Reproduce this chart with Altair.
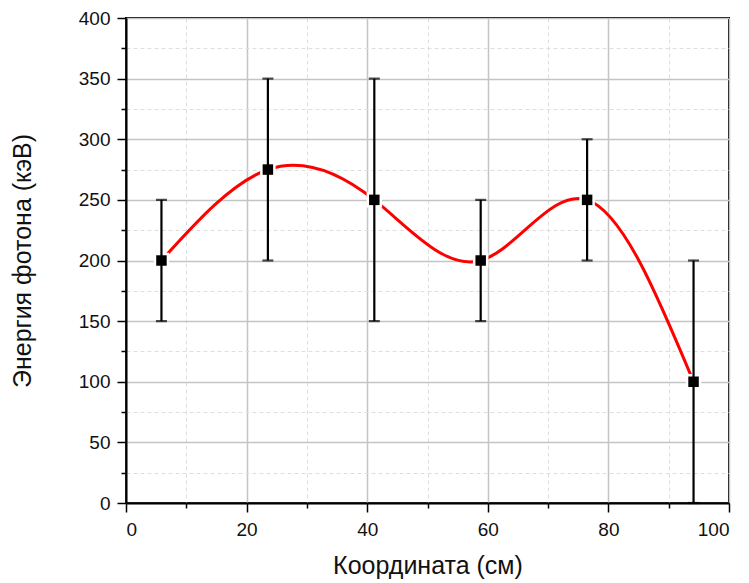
import altair as alt
import pandas as pd

# data
xpos = [5.88, 23.53, 41.18, 58.82, 76.47, 94.12]
energy = [200, 275, 250, 200, 250, 100]
err_low = [150, 200, 150, 150, 200, 0]
err_high = [250, 350, 350, 250, 300, 200]

x_major = [0, 20, 40, 60, 80, 100]
x_minor = [10, 30, 50, 70, 90]
y_major = [0, 50, 100, 150, 200, 250, 300, 350, 400]
y_minor = [25, 75, 125, 175, 225, 275, 325, 375]

df = pd.DataFrame({"x": xpos, "y": energy, "lo": err_low, "hi": err_high})

FONT = "Liberation Sans"
XT = "Координата (см)"
YT = "Энергия фотона (кэВ)"

xs = alt.Scale(domain=[0, 100], nice=False, zero=False)
ys = alt.Scale(domain=[0, 400], nice=False, zero=False)

minor_x_axis = alt.Axis(values=x_minor, grid=True, gridDash=[4, 3], gridColor="#dedede",
                        gridWidth=1, labels=False, domain=False, ticks=True, tickSize=5,
                        tickColor="black", tickWidth=1.5, title=None, orient="bottom")
minor_y_axis = alt.Axis(values=y_minor, grid=True, gridDash=[4, 3], gridColor="#dedede",
                        gridWidth=1, labels=False, domain=False, ticks=True, tickSize=5,
                        tickColor="black", tickWidth=1.5, title=None, orient="left")

major_x_axis = alt.Axis(values=x_major, grid=True, gridColor="#c4c4c4", gridWidth=1.5,
                        domain=True, domainColor="black", domainWidth=2,
                        tickSize=9, tickColor="black", tickWidth=1.5,
                        labelFont=FONT, labelFontSize=19, labelColor="#111111", labelPadding=8,
                        titleFont=FONT, titleFontSize=25, titleFontWeight="normal",
                        titleColor="#111111", titlePadding=14, orient="bottom")
major_y_axis = alt.Axis(values=y_major, grid=True, gridColor="#c4c4c4", gridWidth=1.5,
                        domain=True, domainColor="black", domainWidth=2,
                        tickSize=9, tickColor="black", tickWidth=1.5,
                        labelFont=FONT, labelFontSize=19, labelColor="#111111", labelPadding=7,
                        titleFont=FONT, titleFontSize=25, titleFontWeight="normal",
                        titleColor="#111111", titlePadding=43, orient="left")

base = alt.Chart(df)

minor = base.mark_point(opacity=0).encode(
    x=alt.X("x:Q", scale=xs, axis=minor_x_axis),
    y=alt.Y("y:Q", scale=ys, axis=minor_y_axis),
)

X = alt.X("x:Q", scale=xs, axis=major_x_axis, title=XT)


def Y(field):
    return alt.Y(field, type="quantitative", scale=ys, axis=major_y_axis, title=YT)


line = base.mark_line(color="#ff0000", strokeWidth=3, interpolate="natural").encode(x=X, y=Y("y"))
gap = base.mark_point(shape="square", filled=True, color="white", opacity=1, size=240).encode(x=X, y=Y("y"))
bars = base.mark_rule(color="black", strokeWidth=2.2).encode(x=X, y=Y("lo"), y2="hi:Q")
cap_lo = base.mark_tick(color="black", orient="horizontal", size=11, thickness=2.2).encode(x=X, y=Y("lo"))
cap_hi = base.mark_tick(color="black", orient="horizontal", size=11, thickness=2.2).encode(x=X, y=Y("hi"))
pts = base.mark_point(shape="square", filled=True, color="black", opacity=1, size=110).encode(x=X, y=Y("y"))

main = alt.layer(line, gap, bars, cap_lo, cap_hi, pts)

chart = alt.layer(minor, main).resolve_axis(x="independent", y="independent").properties(
    width=603, height=485,
    padding={"left": 126, "top": 18, "right": 20, "bottom": 80},
    autosize=alt.AutoSizeParams(type="none"),
    background="white",
).configure_view(stroke="black", strokeWidth=2)

chart.save("out.html", embed_options={"renderer": "svg", "actions": False})
